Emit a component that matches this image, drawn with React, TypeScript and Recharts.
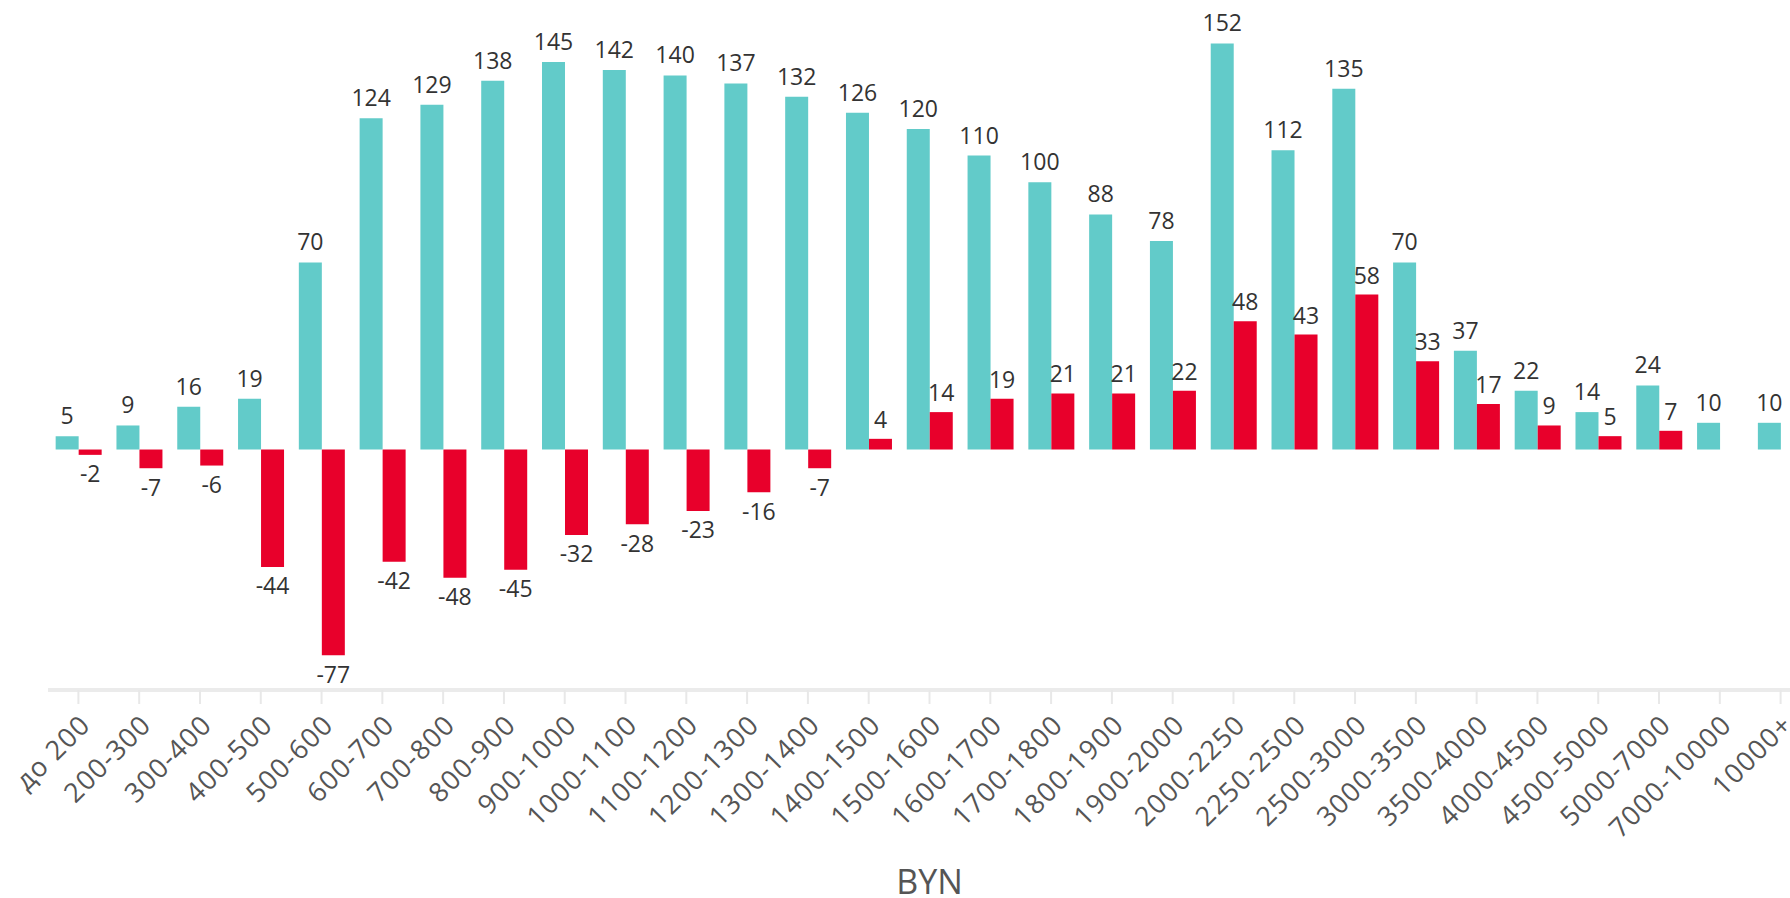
import { BarChart, Bar, XAxis, YAxis, LabelList } from "recharts";

// salary bands, BYN
const bands = [
  "до 200", "200-300", "300-400", "400-500", "500-600", "600-700", "700-800",
  "800-900", "900-1000", "1000-1100", "1100-1200", "1200-1300", "1300-1400",
  "1400-1500", "1500-1600", "1600-1700", "1700-1800", "1800-1900", "1900-2000",
  "2000-2250", "2250-2500", "2500-3000", "3000-3500", "3500-4000", "4000-4500",
  "4500-5000", "5000-7000", "7000-10000", "10000+",
];

const current = [
  5, 9, 16, 19, 70, 124, 129, 138, 145, 142, 140, 137, 132, 126, 120, 110, 100,
  88, 78, 152, 112, 135, 70, 37, 22, 14, 24, 10, 10,
];

const change: (number | null)[] = [
  -2, -7, -6, -44, -77, -42, -48, -45, -32, -28, -23, -16, -7, 4, 14, 19, 21,
  21, 22, 48, 43, 58, 33, 17, 9, 5, 7, null, null,
];

const data = bands.map((band, i) => ({
  band,
  current: current[i],
  change: change[i],
}));

const TEAL = "#62cbc9";
const RED = "#e8002b";

export default function App() {
  return (
    <div
      style={{
        position: "absolute",
        left: 0,
        top: 0,
        width: 1790,
        height: 898,
        overflow: "hidden",
        background: "#fff",
        fontFamily: "'Open Sans', sans-serif",
      }}
    >
      <BarChart
        width={1820}
        height={898}
        data={data}
        margin={{ top: 22, right: 9, bottom: 0, left: 48 }}
        barCategoryGap="12.6%"
        barGap={0}
      >
        <XAxis
          dataKey="band"
          interval={0}
          height={208}
          tickSize={14}
          tickMargin={9}
          axisLine={{ stroke: "#ebebeb", strokeWidth: 4 }}
          tickLine={{ stroke: "#e8e8e8", strokeWidth: 2 }}
          tick={{
            angle: -45,
            textAnchor: "end",
            fontSize: 27,
            letterSpacing: 1.2,
            fill: "#555",
          }}
          label={{
            value: "BYN",
            position: "insideBottom",
            offset: 4,
            fontSize: 34,
            fill: "#555",
          }}
        />
        <YAxis hide domain={[-90, 160]} />
        <Bar dataKey="current" fill={TEAL} isAnimationActive={false}>
          <LabelList dataKey="current" position="top" offset={12} fontSize={23} fill="#333" />
        </Bar>
        <Bar dataKey="change" fill={RED} isAnimationActive={false}>
          <LabelList dataKey="change" position="top" offset={11} fontSize={23} fill="#333" />
        </Bar>
      </BarChart>
    </div>
  );
}
